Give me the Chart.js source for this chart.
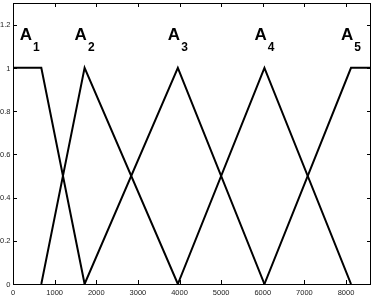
<!DOCTYPE html>
<html>
<head>
<meta charset="utf-8">
<script src="https://cdn.jsdelivr.net/npm/chart.js@4/dist/chart.umd.min.js"></script>
<style>
  html, body { margin: 0; padding: 0; background: #fff; }
  #wrap { width: 374px; height: 297px; position: relative; }
</style>
</head>
<body>
<div id="wrap"><canvas id="chart" width="374" height="297"></canvas></div>
<script>
// membership function break points (x) and values (y)
const a1X = [0, 680, 1720];
const a1Y = [1, 1, 0];
const a2X = [680, 1720, 3960];
const a2Y = [0, 1, 0];
const a3X = [1720, 3960, 6040];
const a3Y = [0, 1, 0];
const a4X = [3960, 6040, 8120];
const a4Y = [0, 1, 0];
const a5X = [6040, 8120, 8600];
const a5Y = [0, 1, 1];

const setNames = ['1', '2', '3', '4', '5'];
const labelX = [400, 1720, 3960, 6040, 8120];
const labelY = 1.13;

const xTicks = [0, 1000, 2000, 3000, 4000, 5000, 6000, 7000, 8000];
const yTicks = [0, 0.2, 0.4, 0.6, 0.8, 1, 1.2];

const FONT = '"Liberation Sans", Arial, sans-serif';

function pts(xs, ys) {
  return xs.map((x, i) => ({ x: x, y: ys[i] }));
}

function lineSet(xs, ys) {
  return {
    data: pts(xs, ys),
    borderColor: '#000',
    borderWidth: 2,
    pointRadius: 0,
    fill: false,
    tension: 0,
    showLine: true
  };
}

// box, inward tick marks on all four sides, tick labels and set labels
const decor = {
  id: 'decor',
  afterDraw(chart) {
    const ctx = chart.ctx;
    const a = chart.chartArea;
    const xs = chart.scales.x, ys = chart.scales.y;
    ctx.save();
    ctx.strokeStyle = '#000';
    ctx.lineWidth = 1;
    ctx.beginPath();
    xTicks.forEach(v => {
      const px = Math.round(xs.getPixelForValue(v)) + 0.5;
      ctx.moveTo(px, a.bottom); ctx.lineTo(px, a.bottom - 4);
      ctx.moveTo(px, a.top); ctx.lineTo(px, a.top + 4);
    });
    yTicks.forEach(v => {
      const py = Math.round(ys.getPixelForValue(v)) + 0.5;
      ctx.moveTo(a.left, py); ctx.lineTo(a.left + 4, py);
      ctx.moveTo(a.right, py); ctx.lineTo(a.right - 4, py);
    });
    ctx.stroke();
    ctx.strokeRect(Math.round(a.left) + 0.5, Math.round(a.top) + 0.5,
      Math.round(a.right - a.left) - 1, Math.round(a.bottom - a.top));

    ctx.fillStyle = '#222';
    ctx.font = '7.5px ' + FONT;
    ctx.textBaseline = 'alphabetic';
    ctx.textAlign = 'center';
    xTicks.forEach(v => {
      ctx.fillText(String(v), xs.getPixelForValue(v), a.bottom + 10.5);
    });
    ctx.textAlign = 'right';
    yTicks.forEach(v => {
      ctx.fillText(String(v), a.left - 2.5, ys.getPixelForValue(v) + 2.7);
    });

    ctx.fillStyle = '#000';
    setNames.forEach((n, i) => {
      const cx = xs.getPixelForValue(labelX[i]);
      const by = ys.getPixelForValue(labelY);
      ctx.font = 'bold 17px ' + FONT;
      const wA = ctx.measureText('A').width;
      ctx.font = 'bold 12px ' + FONT;
      const wS = ctx.measureText(n).width;
      const left = cx - (wA + 1 + wS) / 2;
      ctx.textAlign = 'left';
      ctx.font = 'bold 17px ' + FONT;
      ctx.fillText('A', left, by);
      ctx.font = 'bold 12px ' + FONT;
      ctx.fillText(n, left + wA + 1, by + 11.5);
    });
    ctx.restore();
  }
};

new Chart(document.getElementById('chart'), {
  type: 'scatter',
  data: {
    datasets: [
      lineSet(a1X, a1Y),
      lineSet(a2X, a2Y),
      lineSet(a3X, a3Y),
      lineSet(a4X, a4Y),
      lineSet(a5X, a5Y)
    ]
  },
  options: {
    responsive: false,
    animation: false,
    layout: { padding: { top: 3, right: 3, left: 0, bottom: 0 } },
    plugins: { legend: { display: false }, tooltip: { enabled: false } },
    scales: {
      x: {
        type: 'linear',
        min: 0,
        max: 8600,
        afterFit(s) { s.height = 13; },
        grid: { display: false },
        border: { display: false },
        ticks: { display: false }
      },
      y: {
        min: 0,
        max: 1.3,
        afterFit(s) { s.width = 13; },
        grid: { display: false },
        border: { display: false },
        ticks: { display: false }
      }
    }
  },
  plugins: [decor]
});
</script>
</body>
</html>
